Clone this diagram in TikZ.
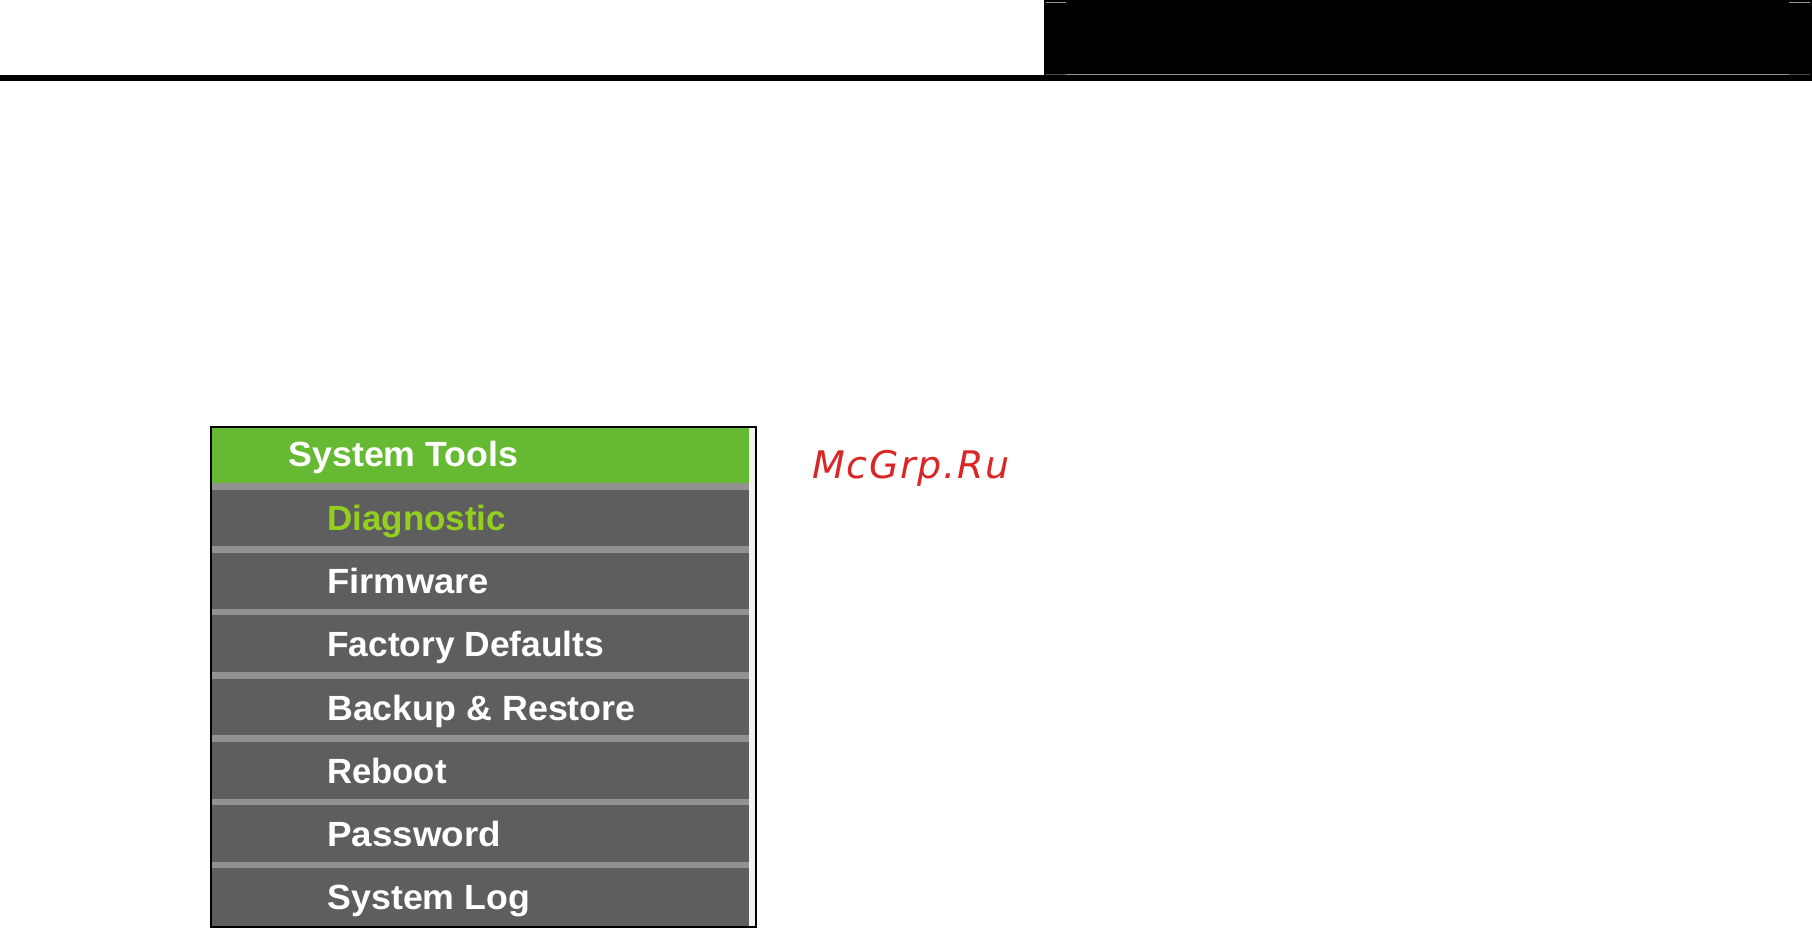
\documentclass[tikz,border=0pt]{standalone}
\usepackage{fontspec}
\setmainfont{Liberation Sans}
\newfontfamily\menufont{Liberation Sans Bold}
\newfontfamily\markfont[LetterSpace=4.6]{DejaVu Sans Oblique}
\definecolor{menugreen}{HTML}{66B933}
\definecolor{menugrey}{HTML}{5E5E5E}
\definecolor{sepgrey}{HTML}{929292}
\definecolor{striplight}{HTML}{F2F2EA}
\definecolor{diaggreen}{HTML}{94CF1F}
\definecolor{markred}{HTML}{DC2626}
\tikzset{
  menuitem/.style={anchor=base west,inner sep=0pt,text=white,font=\menufont\fontsize{35}{35}\selectfont},
  sepbar/.style={fill=sepgrey,draw=none},
  tick/.style={draw=#1,line width=1pt}
}
\begin{document}
\begin{tikzpicture}[x=1pt,y=-1pt]
\useasboundingbox (0,0) rectangle (1812,928);
\fill[white] (0,0) rectangle (1812,928);
% header
\fill[black] (1044,0) rectangle (1812,76);
\fill[black] (0,75) rectangle (1812,81);
\draw[tick=sepgrey] (1046,74.5) -- (1810,74.5);
\draw[tick=sepgrey] (1046,2.5) -- (1066,2.5);
\draw[tick=sepgrey] (1789,2.5) -- (1810,2.5);
\draw[tick=black!70!white] (1046,74.5) -- (1066,74.5);
\draw[tick=black!70!white] (1789,74.5) -- (1810,74.5);
% panel
\fill[black] (210,426) rectangle (757,927.5);
\fill[striplight] (212,428) rectangle (755,925.5);
\fill[menugrey] (212,484) rectangle (749,925.5);
\fill[menugreen] (212,428) rectangle (749,484);
\foreach \y in {483.3,546,608.8,672,735.3,798.5,861.8}
  \fill[sepbar] (212,\y) rectangle (749,\y+6.5);
% menu texts
\node[menuitem] (title) at (288.5,466.7) {\scalebox{1.02}[1]{System Tools}};
\node[menuitem,text=diaggreen] (diag) at (327,530) {Diagnostic};
\node[menuitem] (firm) at (327,593.3) {\scalebox{1.04}[1]{Firmware}};
\node[menuitem] (fact) at (327,656.7) {\scalebox{1.01}[1]{Factory Defaults}};
\node[menuitem] (back) at (327,720) {\scalebox{1.023}[1]{Backup \& Restore}};
\node[menuitem] (boot) at (327,783.3) {\scalebox{0.99}[1]{Reboot}};
\node[menuitem] (pass) at (327,846.7) {\scalebox{1.05}[1]{Password}};
\node[menuitem] (log) at (327.5,909.3) {\scalebox{1.02}[1]{System Log}};
% watermark
\node[anchor=base west,inner sep=0pt,text=markred,font=\markfont\fontsize{38}{38}\selectfont] (mark) at (812,478) {McGrp.Ru};
\end{tikzpicture}
\end{document}
